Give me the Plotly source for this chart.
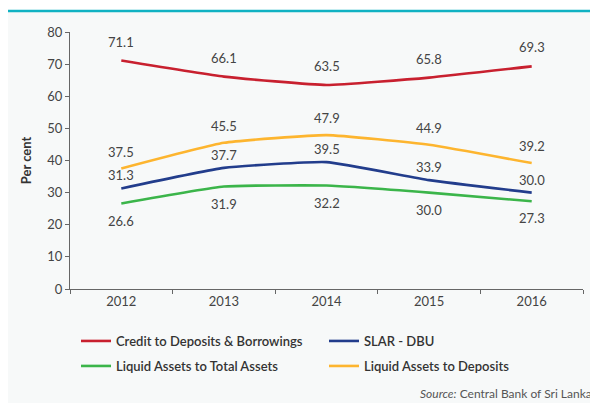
import plotly.graph_objects as go

years = ["2012", "2013", "2014", "2015", "2016"]
credit = [71.1, 66.1, 63.5, 65.8, 69.3]
slar = [31.3, 37.7, 39.5, 33.9, 30.0]
liq_total = [26.6, 31.9, 32.2, 30.0, 27.3]
liq_dep = [37.5, 45.5, 47.9, 44.9, 39.2]

names = ["Credit to Deposits & Borrowings", "SLAR - DBU",
         "Liquid Assets to Total Assets", "Liquid Assets to Deposits"]
series = [credit, slar, liq_total, liq_dep]
colors = ["#C8202F", "#223D8C", "#3BB54A", "#FDB52F"]
legends = ["legend", "legend", "legend2", "legend2"]
shifts = [19, 13, -17, 17]

# page has an 8px body margin; figure is sized to fill the rest
O = 8
W, H = 598 - O, 403 - O
L, R, T = 62, 15, 24
pw = W - L - R
ph = 257
B = H - T - ph


def px(xp):
    return (xp - O - L) / pw


def py(yp):
    return (T + ph - (yp - O)) / ph


fig = go.Figure()
for n, s, c, lg in zip(names, series, colors, legends):
    fig.add_trace(go.Scatter(x=years, y=s, name=n, mode="lines", legend=lg,
                             line=dict(color=c, width=2.6, shape="spline", smoothing=0.4)))

ann = []
for s, sh in zip(series, shifts):
    for i, v in enumerate(s):
        ann.append(dict(x=i, y=v, xref="x", yref="y", text=f"{v:.1f}", showarrow=False,
                        yshift=sh, font=dict(size=13, color="#444", family="Lato")))
ann.append(dict(xref="paper", yref="paper", x=px(594), y=py(393),
                xanchor="right", yanchor="middle", showarrow=False,
                text="<i>Source:</i> Central Bank of Sri Lanka",
                font=dict(size=12, color="#555", family="Lato")))

shapes = [
    dict(type="rect", xref="paper", yref="paper", x0=px(O), x1=px(598), y0=py(403), y1=py(12),
         fillcolor="#F7F9F9", line=dict(width=0), layer="below"),
    dict(type="line", xref="paper", yref="paper", x0=px(O), x1=px(598), y0=py(11), y1=py(11),
         line=dict(color="#10B2C3", width=2.5)),
]

leg_common = dict(orientation="h", xanchor="left", yanchor="middle",
                  entrywidth=203, entrywidthmode="pixels", itemwidth=30,
                  font=dict(size=13, color="#333", family="Lato", weight=600),
                  bgcolor="rgba(0,0,0,0)")

fig.update_layout(
    width=W, height=H,
    margin=dict(l=L, r=R, t=T, b=B),
    paper_bgcolor="white", plot_bgcolor="rgba(0,0,0,0)",
    font=dict(family="Lato", size=13, color="#444"),
    xaxis=dict(type="category", showgrid=False, showline=True, linecolor="#666", linewidth=1,
               ticks="outside", ticklen=4, tickcolor="#666", tickson="boundaries",
               tickfont=dict(size=13, color="#444"), range=[-0.5, 4.5]),
    yaxis=dict(range=[0, 80], dtick=10, showgrid=False, showline=True, linecolor="#666",
               linewidth=1, ticks="outside", ticklen=4, tickcolor="#666", zeroline=False,
               tickfont=dict(size=13, color="#444"),
               title=dict(text="<b>Per cent</b>", font=dict(size=13, color="#333"), standoff=12)),
    showlegend=True,
    legend=dict(x=px(76), y=py(341), **leg_common),
    legend2=dict(x=px(76), y=py(366), **leg_common),
    annotations=ann, shapes=shapes,
)

fig.write_html("out.html")
